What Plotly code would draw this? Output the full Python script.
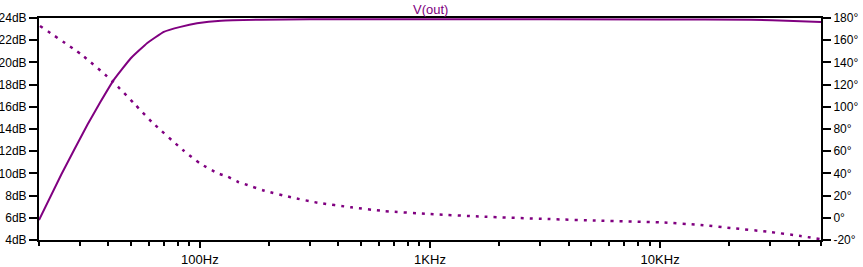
import plotly.graph_objects as go

# Magnitude (solid) - frequency in Hz, gain in dB
mag_freq = [20, 25, 32.5, 36.9, 42.2, 50, 59.1, 69.7, 82.4, 97.2, 123.7, 184, 300, 1000, 10000,
            24800, 38000, 50000]
mag_db = [5.8, 9.9, 14.4, 16.4, 18.4, 20.35, 21.75, 22.75, 23.2, 23.52, 23.76, 23.85, 23.88, 23.88,
          23.87, 23.84, 23.74, 23.64]

# Phase (dotted) - frequency in Hz, phase in degrees
ph_freq = [20.2, 30.7, 41.9, 51.8, 62.1, 84.4, 100, 119.7, 132, 146, 161, 191, 249, 325, 454,
           632, 1000, 1720, 3243, 5521, 10000, 15020, 20960, 29240, 40800, 50000]
ph_deg = [172.8, 146.7, 122.6, 103.0, 86.0, 61.1, 49.1, 40.1, 37.0, 32.5, 29.5, 24.4, 18.5, 13.6, 9.5,
          6.1, 3.4, 1.0, -1.1, -2.6, -4.1, -6.5, -9.5, -12.5, -16.4, -19.4]

x_major = [100, 1000, 10000]
x_major_text = ["100Hz", "1KHz", "10KHz"]
x_minor = [m * d for d in (10, 100, 1000, 10000) for m in range(2, 10) if 20 <= m * d <= 50000]

db_ticks = list(range(4, 25, 2))
deg_ticks = list(range(-20, 181, 20))

PURPLE = "#800080"
FONT = "Liberation Sans, Arial, sans-serif"

fig = go.Figure()
fig.add_trace(go.Scatter(x=mag_freq, y=mag_db, mode="lines",
                         line=dict(color=PURPLE, width=2, shape="spline", smoothing=0.3),
                         yaxis="y", showlegend=False))
fig.add_trace(go.Scatter(x=ph_freq, y=ph_deg, mode="lines",
                         line=dict(color=PURPLE, width=2.5, dash="3px,6px", shape="spline", smoothing=0.6),
                         yaxis="y2", showlegend=False))

fig.update_layout(
    width=863, height=267,
    margin=dict(l=39, r=42, t=18, b=27, pad=0, autoexpand=False),
    paper_bgcolor="white", plot_bgcolor="white",
    font=dict(family=FONT, size=12, color="black"),
    xaxis=dict(type="log", range=[1.30103, 4.69897], showgrid=False, zeroline=False, automargin=False,
               showline=True, linecolor="black", linewidth=2, mirror=True,
               ticks="outside", ticklen=6, tickwidth=2, tickcolor="black",
               tickmode="array", tickvals=x_major, ticktext=x_major_text,
               tickfont=dict(family=FONT, size=13),
               minor=dict(tickmode="array", tickvals=x_minor, ticks="outside", ticklen=4,
                          tickwidth=2, tickcolor="black", showgrid=False)),
    yaxis=dict(range=[4, 24], showgrid=False, zeroline=False, automargin=False,
               showline=True, linecolor="black", linewidth=2,
               ticks="outside", ticklen=8, tickwidth=2, tickcolor="black",
               tickmode="array", tickvals=db_ticks, ticktext=[f"{v}dB" for v in db_ticks]),
    yaxis2=dict(range=[-20, 180], overlaying="y", side="right", showgrid=False, zeroline=False,
                automargin=False,
                showline=True, linecolor="black", linewidth=2,
                ticks="outside", ticklen=8, tickwidth=2, tickcolor="black",
                tickmode="array", tickvals=deg_ticks, ticktext=[f"{v}°" for v in deg_ticks]),
    annotations=[dict(text="V(out)", xref="paper", yref="paper", x=0.5, y=1, xanchor="center",
                      yanchor="bottom", yshift=-1, showarrow=False,
                      font=dict(family=FONT, size=13, color=PURPLE))],
)

fig.write_html("out.html")
